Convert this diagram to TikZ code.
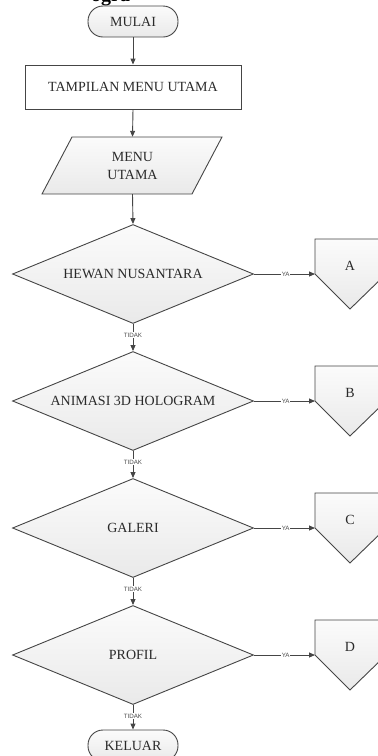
\documentclass[tikz,border=0pt]{standalone}
\usepackage{fontspec}
\setmainfont{Liberation Serif}
\newfontfamily\lblfont{Liberation Sans}
\usetikzlibrary{shapes.geometric,arrows.meta}
\definecolor{lineclr}{HTML}{454545}
\definecolor{txtclr}{HTML}{2A2A2A}
\begin{document}
\begin{tikzpicture}[x=1pt,y=-1pt,
  base/.style={draw=lineclr, line width=0.9pt, text=txtclr, font=\fontsize{14}{16}\selectfont},
  shade/.style={top color=gray!3, bottom color=gray!17},
  term/.style={base, shade, rectangle, rounded corners=15pt, minimum width=90pt, minimum height=31pt, inner sep=0pt},
  proc/.style={base, fill=white, rectangle, minimum width=216pt, minimum height=44pt, inner sep=0pt},
  dec/.style={base, shade, diamond, shape aspect=2.43, minimum width=241pt, minimum height=99pt, inner sep=0pt},
  plain/.style={text=txtclr, font=\fontsize{14}{16}\selectfont, inner sep=0pt},
  arr/.style={draw=lineclr, line width=0.9pt, -{Triangle[length=6pt,width=5pt]}},
  lbl/.style={fill=white, inner sep=0.8pt, text=black!70, font=\lblfont\fontsize{6.2}{7}\selectfont},
  offp/.style={draw=lineclr, line width=0.9pt, shade}
]
\useasboundingbox (0,0) rectangle (378,756);
\clip (0,0) rectangle (378,756);

% partially visible heading at the top edge
\node[anchor=base west, inner sep=0pt, font=\bfseries\fontsize{20}{20}\selectfont] (head) at (91,1.5) {ogra};

% start
\node[term] (start) at (133,21.5) {MULAI};
% process
\node[proc] (tamp) at (133,87) {TAMPILAN MENU UTAMA};
% input / output (parallelogram)
\path[base, shade] (72,137) -- (222,137) -- (192,194) -- (42,194) -- cycle;
\node[plain, minimum width=150pt, minimum height=57pt, align=center] (menu) at (132.5,165.5) {MENU\\[2pt]UTAMA};

% decisions
\node[dec] (d1) at (133,274) {HEWAN NUSANTARA};
\node[dec] (d2) at (133,401) {ANIMASI 3D HOLOGRAM};
\node[dec] (d3) at (133,528) {GALERI};
\node[dec] (d4) at (133,655) {PROFIL};

% end
\node[term] (stop) at (133,745.5) {KELUAR};

% off-page connectors
\path[offp] (315,239) -- (386,239) -- (386,274) -- (350,309) -- (315,274) -- cycle;
\node[plain] (cA) at (350,266) {A};
\coordinate (inA) at (315,274);
\path[offp] (315,366) -- (386,366) -- (386,401) -- (350,436) -- (315,401) -- cycle;
\node[plain] (cB) at (350,393) {B};
\coordinate (inB) at (315,401);
\path[offp] (315,493) -- (386,493) -- (386,528) -- (350,563) -- (315,528) -- cycle;
\node[plain] (cC) at (350,520) {C};
\coordinate (inC) at (315,528);
\path[offp] (315,620) -- (386,620) -- (386,655) -- (350,690) -- (315,655) -- cycle;
\node[plain] (cD) at (350,647) {D};
\coordinate (inD) at (315,655);

% flow
\draw[arr] (start.south) -- (tamp.north);
\draw[arr] (tamp.south) -- (menu.north);
\draw[arr] (menu.south) -- (d1.north);
\draw[arr] (d1.south) -- node[lbl, pos=0.42] {TIDAK} (d2.north);
\draw[arr] (d2.south) -- node[lbl, pos=0.42] {TIDAK} (d3.north);
\draw[arr] (d3.south) -- node[lbl, pos=0.42] {TIDAK} (d4.north);
\draw[arr] (d4.south) -- node[lbl, pos=0.45] {TIDAK} (stop.north);

\draw[arr] (d1.east) -- node[lbl, pos=0.52] {YA} (inA);
\draw[arr] (d2.east) -- node[lbl, pos=0.52] {YA} (inB);
\draw[arr] (d3.east) -- node[lbl, pos=0.52] {YA} (inC);
\draw[arr] (d4.east) -- node[lbl, pos=0.52] {YA} (inD);
\end{tikzpicture}
\end{document}
